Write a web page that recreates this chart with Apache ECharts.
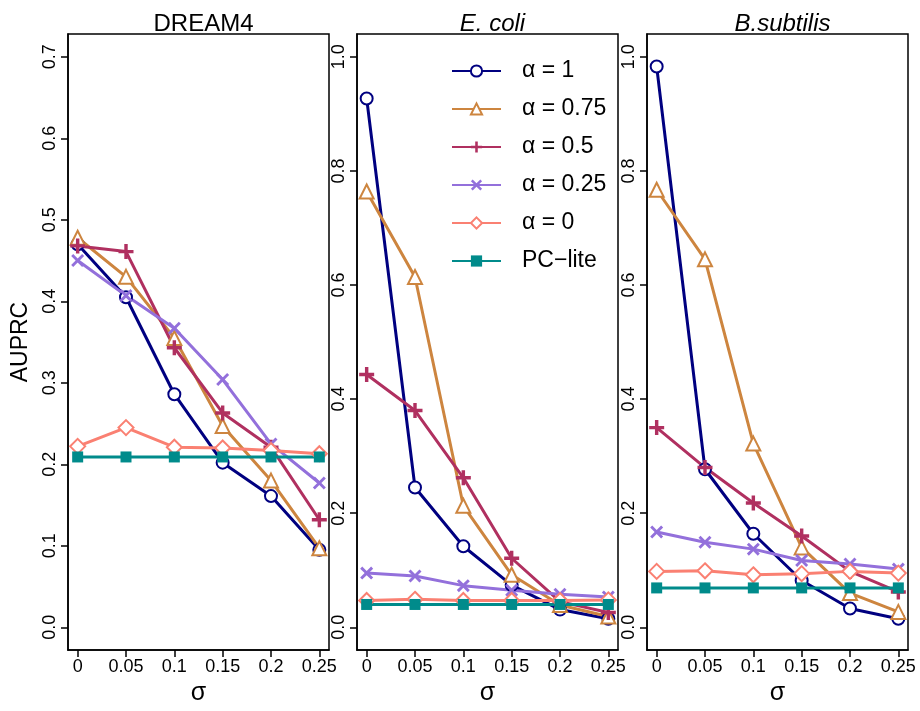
<!DOCTYPE html>
<html>
<head>
<meta charset="utf-8">
<script src="https://cdn.jsdelivr.net/npm/echarts@6/dist/echarts.min.js"></script>
<style>
  html, body { margin: 0; padding: 0; background: #fff; }
  #chart { width: 920px; height: 711px; }
</style>
</head>
<body>
<div id="chart"></div>
<script>
// noise levels (x axis)
var sigma = [0, 0.05, 0.1, 0.15, 0.2, 0.25];
var seriesNames = ['α = 1', 'α = 0.75', 'α = 0.5', 'α = 0.25', 'α = 0', 'PC\u2212lite'];
var panelTitles = ['DREAM4', 'E. coli', 'B.subtilis'];
var xTicks = [0, 0.05, 0.1, 0.15, 0.2, 0.25];
var yTicksDream = [0, 0.1, 0.2, 0.3, 0.4, 0.5, 0.6, 0.7];
var yTicksBio = [0, 0.2, 0.4, 0.6, 0.8, 1.0];

// DREAM4
var dreamA1 = [0.470, 0.405, 0.286, 0.202, 0.161, 0.095];
var dreamA075 = [0.478, 0.430, 0.355, 0.247, 0.180, 0.097];
var dreamA05 = [0.468, 0.461, 0.343, 0.263, 0.221, 0.132];
var dreamA025 = [0.450, 0.407, 0.367, 0.304, 0.225, 0.177];
var dreamA0 = [0.222, 0.245, 0.221, 0.220, 0.217, 0.213];
var dreamPC = [0.209, 0.209, 0.209, 0.209, 0.209, 0.209];

// E. coli
var ecoliA1 = [0.927, 0.245, 0.142, 0.074, 0.031, 0.015];
var ecoliA075 = [0.764, 0.614, 0.213, 0.092, 0.039, 0.019];
var ecoliA05 = [0.443, 0.380, 0.262, 0.121, 0.045, 0.026];
var ecoliA025 = [0.095, 0.090, 0.073, 0.065, 0.058, 0.053];
var ecoliA0 = [0.047, 0.049, 0.047, 0.047, 0.047, 0.048];
var ecoliPC = [0.040, 0.040, 0.040, 0.040, 0.040, 0.040];

// B. subtilis
var bsubA1 = [0.983, 0.277, 0.164, 0.082, 0.033, 0.015];
var bsubA075 = [0.767, 0.645, 0.322, 0.140, 0.060, 0.027];
var bsubA05 = [0.350, 0.280, 0.218, 0.160, 0.098, 0.062];
var bsubA025 = [0.167, 0.149, 0.137, 0.117, 0.111, 0.102];
var bsubA0 = [0.098, 0.099, 0.092, 0.094, 0.098, 0.095];
var bsubPC = [0.069, 0.069, 0.069, 0.069, 0.069, 0.069];

var panels = [
    [dreamA1, dreamA075, dreamA05, dreamA025, dreamA0, dreamPC],
    [ecoliA1, ecoliA075, ecoliA05, ecoliA025, ecoliA0, ecoliPC],
    [bsubA1, bsubA075, bsubA05, bsubA025, bsubA0, bsubPC]
];

var FONT = '"Liberation Sans", Arial, Helvetica, sans-serif';
var colors = ['#000080', '#CD853F', '#B03060', '#9370DB', '#FA8072', '#008B8B'];
var plusPath = 'path://M-1.6,-7 L1.6,-7 L1.6,-1.6 L7,-1.6 L7,1.6 L1.6,1.6 L1.6,7 L-1.6,7 L-1.6,1.6 L-7,1.6 L-7,-1.6 L-1.6,-1.6 Z';
var crossPath = 'path://M-7,-4.8 L-4.8,-7 L0,-2.2 L4.8,-7 L7,-4.8 L2.2,0 L7,4.8 L4.8,7 L0,2.2 L-4.8,7 L-7,4.8 L-2.2,0 Z';
var symbols = ['emptyCircle', 'emptyTriangle', plusPath, crossPath, 'emptyDiamond', 'rect'];
var symbolSizes = [12, 14, 15, 13, 15, 11];
var borderWidths = [2.8, 2.8, 0, 0, 2.8, 0];

var gridLefts = [68, 357, 647];
var gridWidth = 261;

function pairs(values) {
    return sigma.map(function (s, i) { return [s, values[i]]; });
}

var axisLineStyle = { show: true, onZero: false, lineStyle: { color: '#000', width: 1.5 } };
var grids = [], xAxes = [], yAxes = [], titles = [], series = [];
gridLefts.forEach(function (left, p) {
    grids.push({
        left: left, top: 34, width: gridWidth, height: 623,
        show: true, borderColor: '#000', borderWidth: 1.5, backgroundColor: 'transparent'
    });
    xAxes.push({
        type: 'value', gridIndex: p, min: -0.01, max: 0.26, position: 'bottom',
        name: 'σ', nameLocation: 'middle', nameGap: 27,
        nameTextStyle: { fontFamily: FONT, fontSize: 25, color: '#000' },
        axisLine: axisLineStyle,
        axisTick: { show: true, inside: false, customValues: xTicks, length: 7, lineStyle: { color: '#000', width: 1.5 } },
        axisLabel: { customValues: xTicks, margin: 8, fontFamily: FONT, fontSize: 18, color: '#000' },
        splitLine: { show: false }
    });
    var yt = p === 0 ? yTicksDream : yTicksBio;
    yAxes.push({
        type: 'value', gridIndex: p, position: 'left',
        min: p === 0 ? -0.028 : -0.04,
        max: p === 0 ? 0.728 : 1.04,
        name: p === 0 ? 'AUPRC' : '', nameLocation: 'middle', nameGap: 36,
        nameTextStyle: { fontFamily: FONT, fontSize: 23, color: '#000' },
        axisLine: axisLineStyle,
        axisTick: { show: true, inside: false, customValues: yt, length: 7, lineStyle: { color: '#000', width: 1.5 } },
        axisLabel: {
            customValues: yt, rotate: 90, margin: 9, fontFamily: FONT, fontSize: 18, color: '#000',
            formatter: function (v) { return v.toFixed(1); }
        },
        splitLine: { show: false }
    });
    titles.push({
        text: panelTitles[p], left: left + gridWidth / 2, top: 7, textAlign: 'center',
        textStyle: {
            fontFamily: FONT, fontSize: 24, fontWeight: 'normal', color: '#000',
            fontStyle: p === 0 ? 'normal' : 'italic'
        }
    });
    panels[p].forEach(function (values, k) {
        series.push({
            name: seriesNames[k], type: 'line', xAxisIndex: p, yAxisIndex: p,
            data: pairs(values),
            symbol: symbols[k], symbolSize: symbolSizes[k], showAllSymbol: true,
            color: colors[k],
            lineStyle: { color: colors[k], width: 3 },
            itemStyle: { color: colors[k], borderColor: colors[k], borderWidth: borderWidths[k] },
            emphasis: { disabled: true },
            animation: false
        });
    });
});

var myChart = echarts.init(document.getElementById('chart'), null, { renderer: 'canvas' });
var chartOption = {
    backgroundColor: '#fff',
    animation: false,
    title: titles,
    grid: grids,
    xAxis: xAxes,
    yAxis: yAxes,
    legend: {
        data: seriesNames,
        orient: 'vertical',
        left: 446, top: 54,
        itemWidth: 49, itemHeight: 14, itemGap: 14,
        textStyle: { fontFamily: FONT, fontSize: 23, color: '#000', lineHeight: 24, padding: [0, 0, 0, 16] }
    },
    series: series
};

if (chartOption && typeof chartOption === "object") {
    myChart.setOption(chartOption, true);
}
</script>
</body>
</html>
